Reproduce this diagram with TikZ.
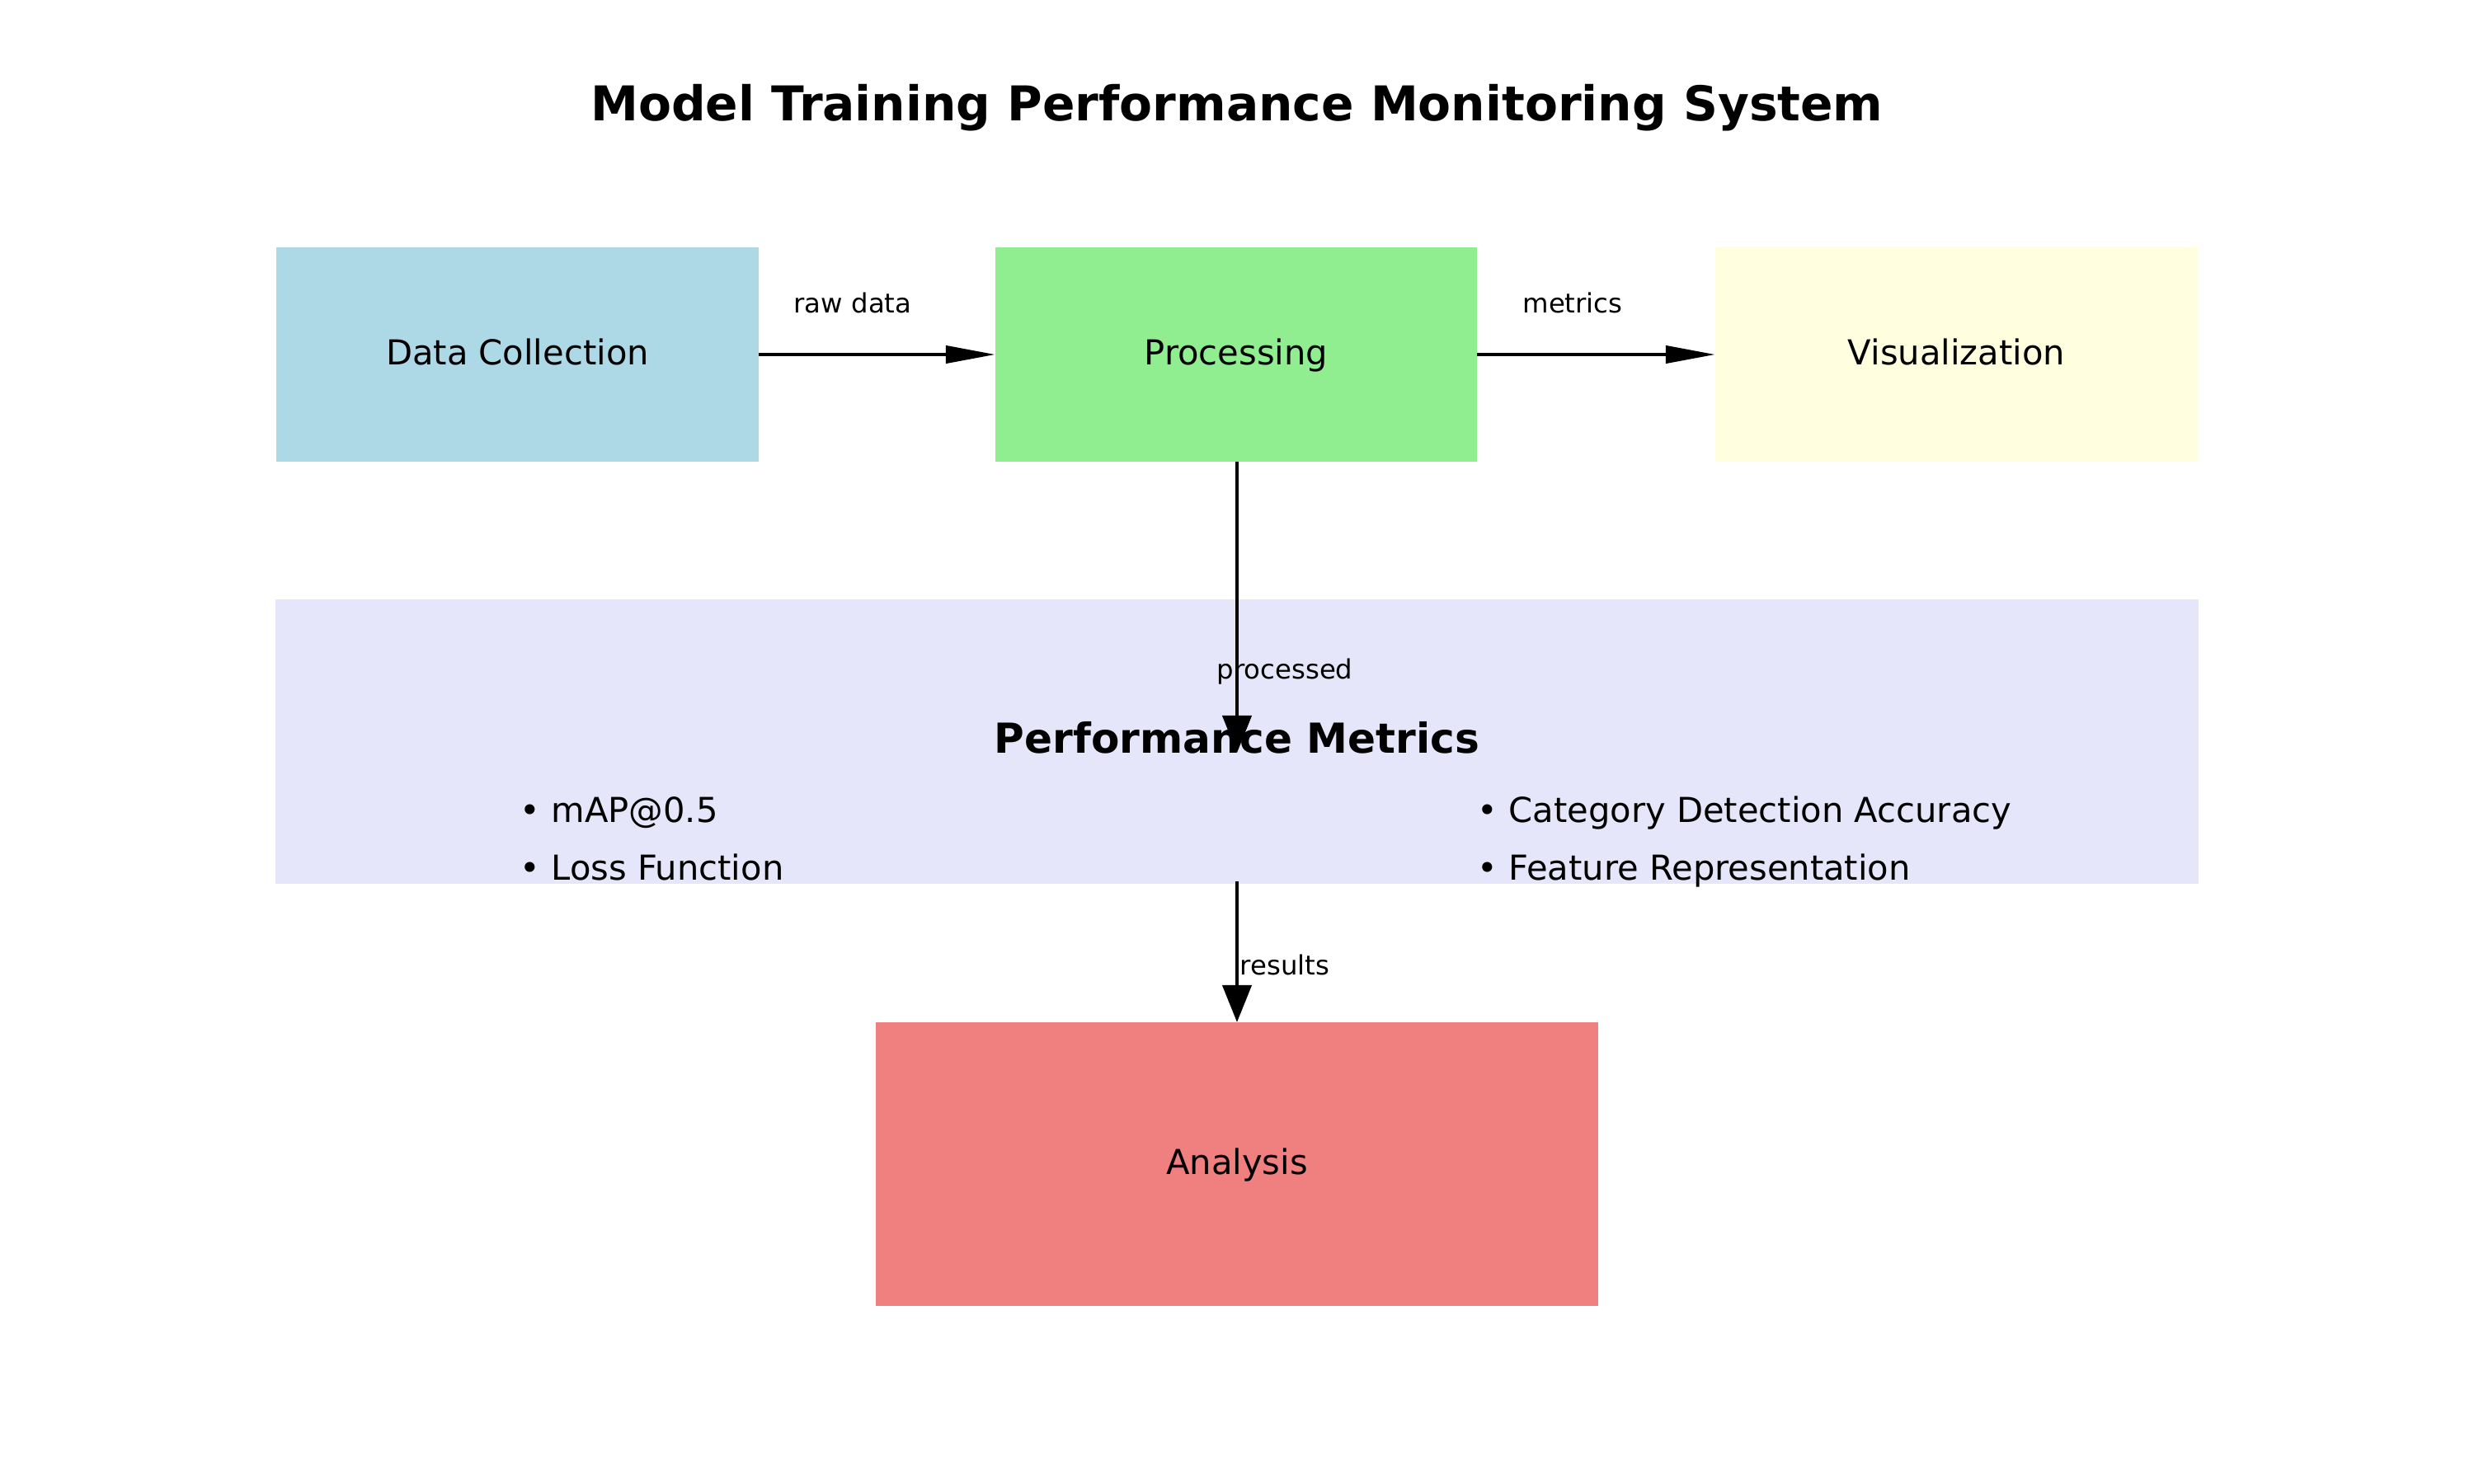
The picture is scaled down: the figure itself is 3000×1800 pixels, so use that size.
\documentclass[tikz,border=0pt]{standalone}
\usepackage{fontspec}
\setmainfont{DejaVu Sans}
\usetikzlibrary{arrows.meta}
\definecolor{cdc}{HTML}{ADD8E6}
\definecolor{cproc}{HTML}{90EE90}
\definecolor{cvis}{HTML}{FFFFE0}
\definecolor{cmet}{HTML}{E6E6FA}
\definecolor{cana}{HTML}{F08080}
\begin{document}
\begin{tikzpicture}[x=0.01cm,y=-0.01cm,
  box/.style={rectangle, draw=none, inner sep=0pt, outer sep=0pt,
    font=\fontsize{11.85}{14}\selectfont, text height=9.5pt, text depth=2.4pt},
  title/.style={font=\fontsize{16.55}{20}\selectfont\bfseries, anchor=base, inner sep=0pt},
  mtitle/.style={font=\fontsize{14.25}{17}\selectfont\bfseries, anchor=base, inner sep=0pt},
  bullet/.style={font=\fontsize{11.85}{14}\selectfont, anchor=base west, inner sep=0pt},
  elabel/.style={font=\fontsize{9.2}{11}\selectfont, anchor=base, inner sep=0pt},
  harrow/.style={line width=0.042cm, -{Triangle[length=0.6cm, width=0.21cm]}},
  varrow/.style={line width=0.042cm, -{Triangle[length=0.45cm, width=0.35cm]}}
]
\useasboundingbox (0,0) rectangle (3000,1800);
\fill[white] (0,0) rectangle (3000,1800);

\node[title] (title) at (1500,147) {Model Training Performance Monitoring System};

\node[box, fill=cdc, minimum width=5.85cm, minimum height=2.6cm] (dc) at (627.5,430) {Data Collection};
\node[box, fill=cproc, minimum width=5.84cm, minimum height=2.6cm] (proc) at (1499,430) {Processing};
\node[box, fill=cvis, minimum width=5.85cm, minimum height=2.6cm] (vis) at (2372.5,430) {Visualization};
\node[box, fill=cmet, minimum width=23.3cm, minimum height=3.45cm] (met) at (1500,899.5) {};
\node[box, fill=cana, minimum width=8.76cm, minimum height=3.44cm] (ana) at (1500,1412) {Analysis};

\node[mtitle] (mtitle) at (1500,913) {Performance Metrics};
\node[bullet] (b1) at (630,997) {• mAP@0.5};
\node[bullet] (b2) at (630,1067) {• Loss Function};
\node[bullet] (b3) at (1791,997) {• Category Detection Accuracy};
\node[bullet] (b4) at (1791,1067) {• Feature Representation};

\coordinate (ptip) at (1500,913);
\coordinate (mstart) at (1500,1069);

\draw[harrow] (dc.east) -- (proc.west);
\draw[harrow] (proc.east) -- (vis.west);
\draw[varrow] (proc.south -| ptip) -- (ptip);
\draw[varrow] (mstart) -- (ana.north);

\node[elabel] (lraw) at (1034,379) {raw data};
\node[elabel] (lmet) at (1907,379) {metrics};
\node[elabel] (lproc) at (1558,823) {processed};
\node[elabel, anchor=base west] (lres) at (1503,1182) {results};
\end{tikzpicture}
\end{document}
